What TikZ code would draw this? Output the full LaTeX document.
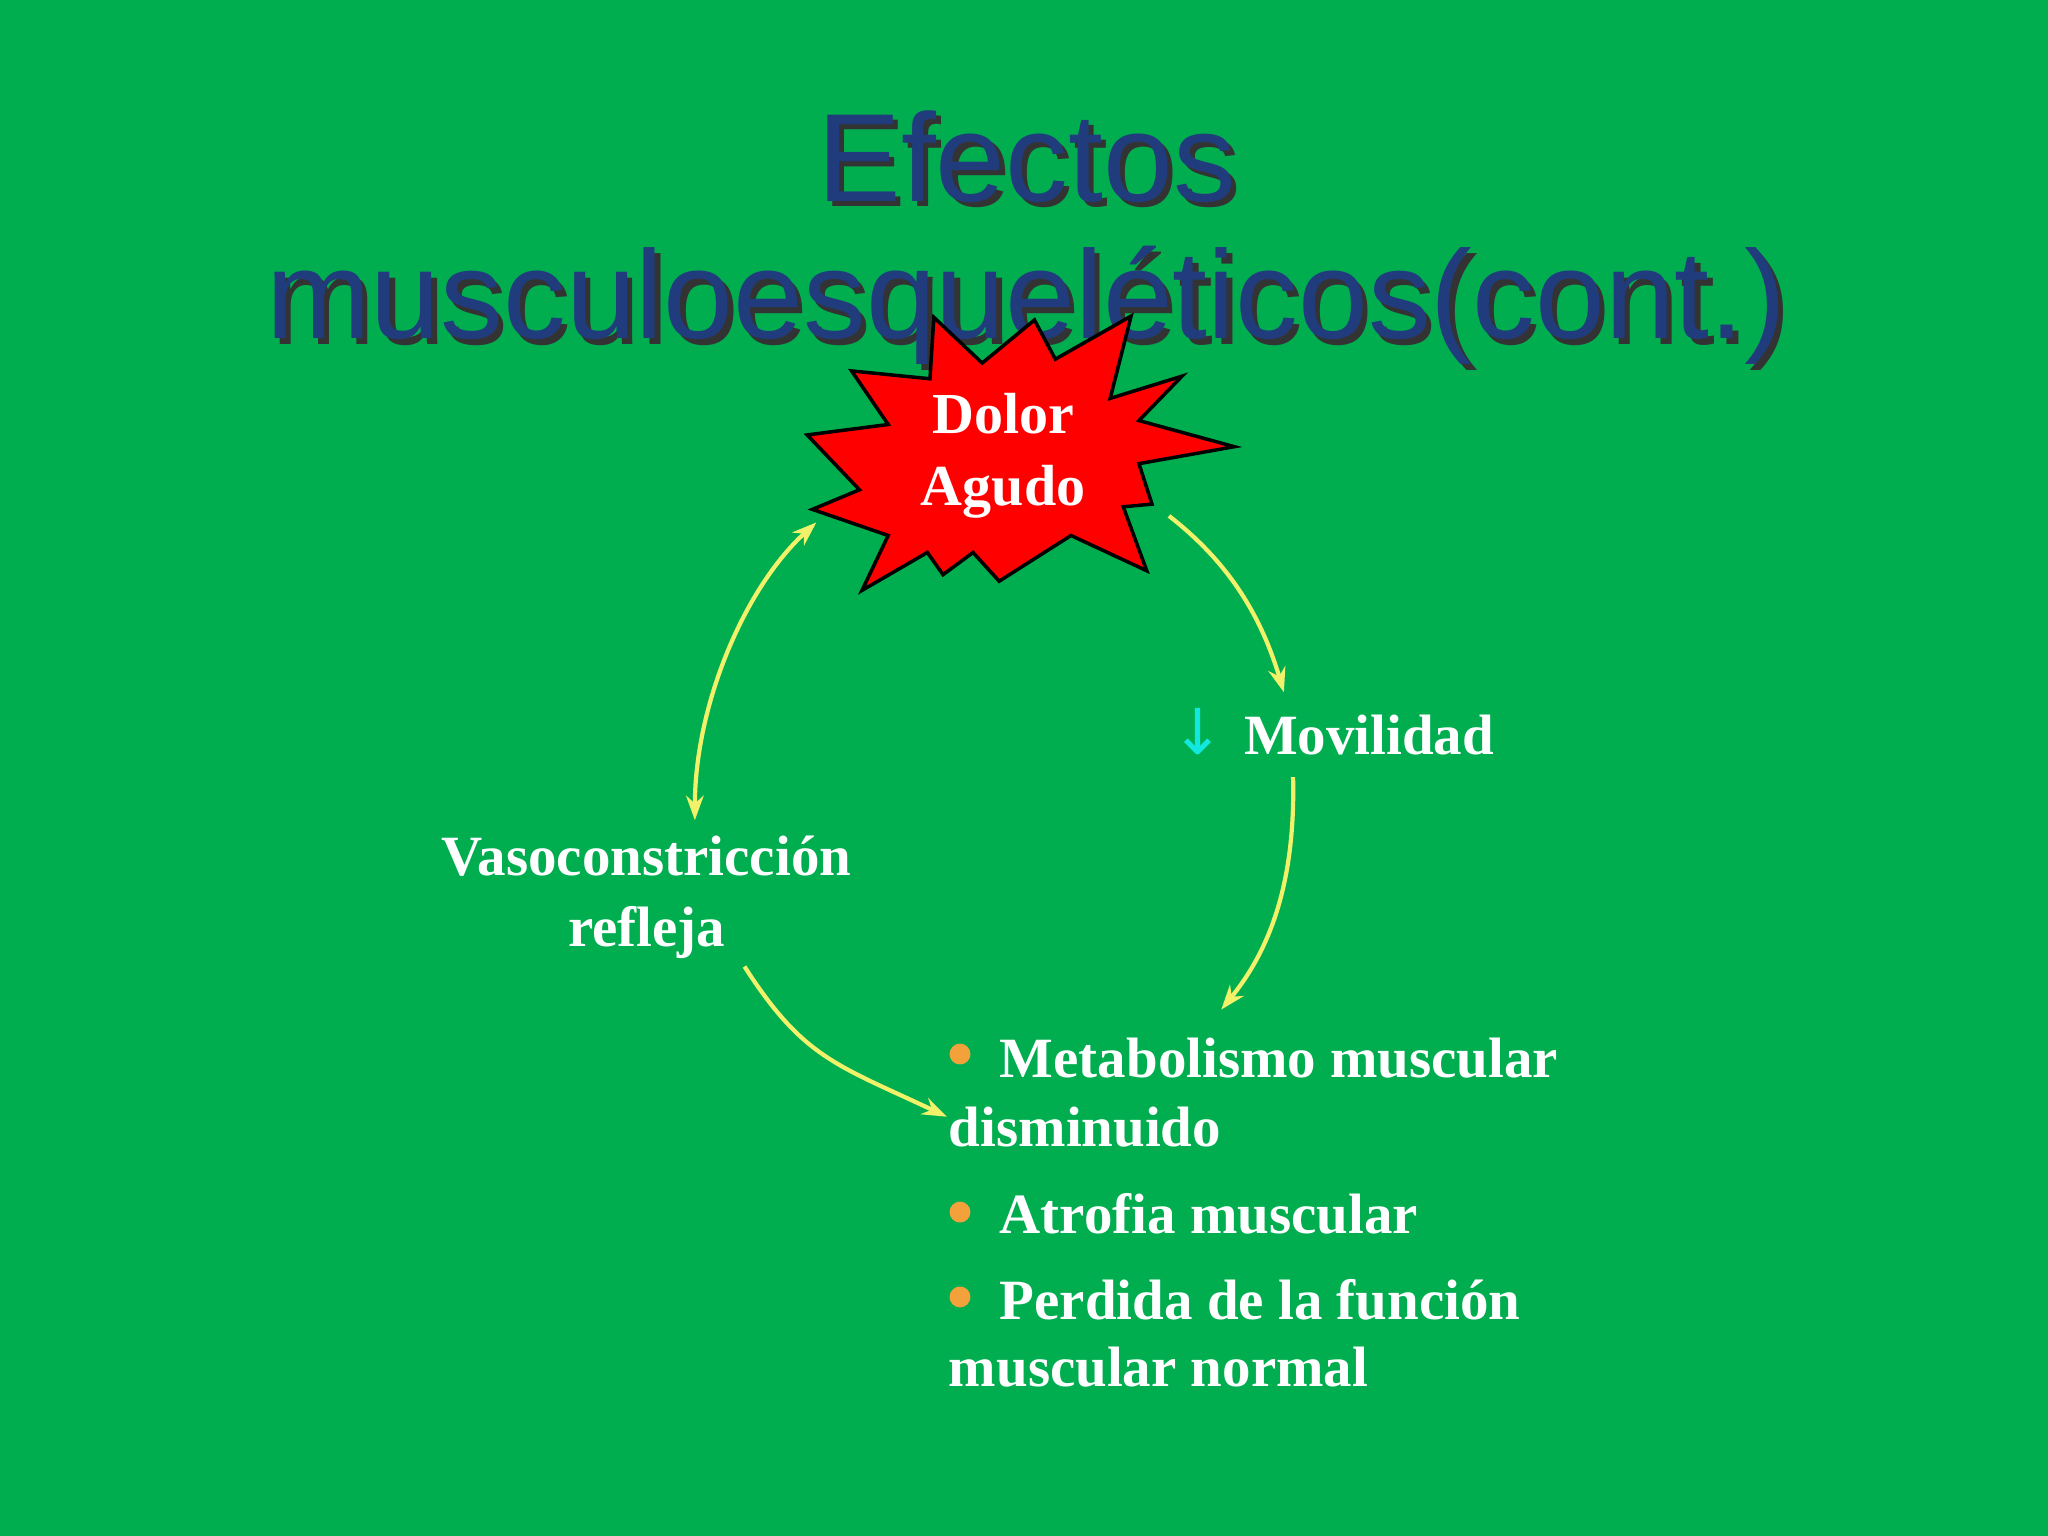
\documentclass[tikz,border=0pt]{standalone}
\usepackage{fontspec}
\setmainfont{Liberation Serif}
\newfontfamily\titlefont{Liberation Sans}
\newfontfamily\symfont{DejaVu Sans}
\usetikzlibrary{arrows.meta}
\definecolor{bg}{HTML}{00AE50}
\definecolor{ttl}{HTML}{203C7C}
\definecolor{arr}{HTML}{F2F26A}
\definecolor{bul}{HTML}{F3A13A}
\definecolor{cy}{HTML}{10E8E0}
\tikzset{
 lbl/.style={text=white,font=\fontsize{16.2}{20}\selectfont\bfseries,inner sep=0pt},
 conn/.style={draw=arr,line width=1.2pt,-{Stealth[length=7pt,width=5pt]}},
 ttlt/.style={font=\titlefont\fontsize{35.7}{40}\selectfont,inner sep=0pt}
}
\begin{document}
\begin{tikzpicture}[x=0.013061cm,y=-0.013061cm]
\fill[bg] (0,0) rectangle (1568,1176);
\useasboundingbox (0,0) rectangle (1568,1176);
% title
\foreach \t/\x/\y [count=\i] in {Efectos/786/120,musculoesquel\'eticos(cont.)/786/234}{
 \node[ttlt,text=black!80] at (\x+4,\y+4) {\t};
 \node[ttlt,text=ttl] (t\i) at (\x,\y) {\t};
}
% star
\draw[fill=red,draw=black,line width=1pt] (618,333)--(680,325)--(652,284)--(712,290)--(715,243)--(752,278)--(792,245)--(808,275)--(866,242)--(850,305)--(905,288)--(872,322)--(945,342)--(872,355)--(882,386)--(860,388)--(878,437)--(820,410)--(765,445)--(745,423)--(722,440)--(710,423)--(660,452)--(680,410)--(622,390)--(658,375)--cycle;
\node[lbl,align=center,font=\fontsize{16.5}{20.5}\selectfont\bfseries] (dolor) at (768,349) {Dolor\\Agudo};
\node[lbl,anchor=west] (mov) at (952,563) {Movilidad};
\node[anchor=east,text=cy,font=\symfont\fontsize{18}{20}\selectfont,inner sep=0pt] (down) at (938,560) {↓};
\node[lbl,align=center] (vaso) at (495,687) {Vasoconstricci\'on\\refleja};
\node[lbl,anchor=west] (m1) at (765,810) {Metabolismo muscular};
\node[lbl,anchor=west] (m1b) at (726,863) {disminuido};
\node[lbl,anchor=west] (m2) at (765,929) {Atrofia muscular};
\node[lbl,anchor=west] (m3) at (765,995) {Perdida de la funci\'on};
\node[lbl,anchor=west] (m3b) at (726,1047) {muscular normal};
\foreach \y in {807,928,993} \fill[bul] (735,\y) circle (8);
% connectors
\coordinate (a1) at (895,395); \coordinate (a2) at (983,530);
\draw[conn] (a1) .. controls (940,430) and (965,470) .. (a2);
\coordinate (b1) at (990,595); \coordinate (b2) at (935,773);
\draw[conn] (b1) .. controls (992,680) and (970,730) .. (b2);
\coordinate (c1) at (570,740); \coordinate (c2) at (725,855);
\draw[conn] (c1) .. controls (615,810) and (640,815) .. (c2);
\coordinate (d1) at (625,400); \coordinate (d2) at (532,628);
\draw[conn,{Stealth[length=7pt,width=5pt]}-{Stealth[length=7pt,width=5pt]}] (d1) .. controls (570,450) and (532,540) .. (d2);
\end{tikzpicture}
\end{document}
